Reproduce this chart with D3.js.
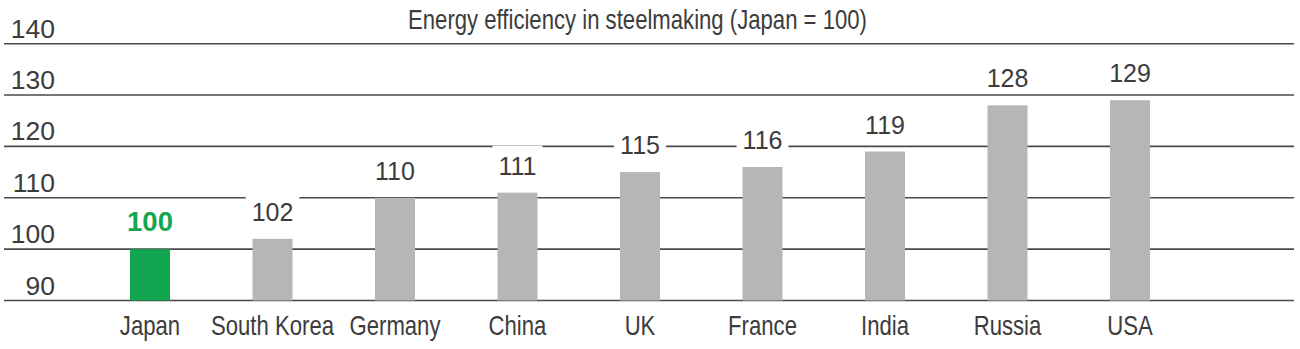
<!DOCTYPE html>
<html><head><meta charset="utf-8">
<script src="https://cdn.jsdelivr.net/npm/d3@7"></script>
<style>
html,body{margin:0;padding:0;background:#fff;}
svg{display:block;}
</style></head>
<body>
<svg id="chart" width="1300" height="349"></svg>
<script>
const categories = ["Japan","South Korea","Germany","China","UK","France","India","Russia","USA"];
const values = [100,102,110,111,115,116,119,128,129];
const highlight = ["Japan"];
const yTicks = [90,100,110,120,130,140];
const title = "Energy efficiency in steelmaking (Japan = 100)";

const svg = d3.select("#chart");
const font = "'Liberation Sans',Arial,Helvetica,sans-serif";
const textCol = "#3c3c3c";
const squeeze = 0.82;

const x = d3.scaleBand().domain(categories).range([88.75, 1191.25])
  .paddingInner(0.6735).paddingOuter(0.3367);
const y = d3.scaleLinear().domain([90,140]).range([300.5, 43.7]);

// gridlines
svg.append("g").selectAll("line").data(yTicks).join("line")
  .attr("x1", 4).attr("x2", 1294)
  .attr("y1", d => y(d)).attr("y2", d => y(d))
  .attr("stroke", "#4a4a4a").attr("stroke-width", 1.6);

// y tick labels
svg.append("g").selectAll("text").data(yTicks).join("text")
  .attr("x", 55).attr("y", d => y(d) - 6)
  .attr("text-anchor", "end")
  .attr("font-family", font).attr("font-size", 26.5)
  .attr("fill", textCol).text(d => d);

// bars
svg.append("g").selectAll("rect").data(categories).join("rect")
  .attr("x", d => x(d)).attr("width", x.bandwidth())
  .attr("y", (d,i) => y(values[i]))
  .attr("height", (d,i) => y(90) - y(values[i]))
  .attr("fill", d => highlight.includes(d) ? "#13a651" : "#b5b6b5");

// value labels with white boxes
const lab = svg.append("g").selectAll("g").data(categories).join("g")
  .attr("transform", (d,i) => `translate(${x(d) + x.bandwidth()/2},${y(values[i]) - 18})`);
lab.append("text")
  .attr("text-anchor", "middle")
  .attr("font-family", font)
  .attr("font-size", d => highlight.includes(d) ? 27.5 : 25)
  .attr("font-weight", d => highlight.includes(d) ? "bold" : "normal")
  .attr("fill", d => highlight.includes(d) ? "#13a651" : textCol)
  .text((d,i) => values[i]);
lab.each(function(){
  const g = d3.select(this);
  const bb = g.select("text").node().getBBox();
  g.insert("rect","text")
    .attr("x", bb.x - 6).attr("width", bb.width + 12)
    .attr("y", -29).attr("height", 34)
    .attr("fill", "#fff");
});

// category labels (condensed)
svg.append("g").selectAll("g").data(categories).join("g")
  .attr("transform", d => `translate(${x(d) + x.bandwidth()/2},335) scale(${squeeze},1)`)
  .append("text")
  .attr("text-anchor", "middle")
  .attr("font-family", font).attr("font-size", 27)
  .attr("fill", textCol).text(d => d);

// title (condensed)
svg.append("g").attr("transform", `translate(637.5,29) scale(${squeeze},1)`)
  .append("text")
  .attr("text-anchor", "middle")
  .attr("font-family", font).attr("font-size", 27)
  .attr("fill", textCol).text(title);
</script>
</body></html>
